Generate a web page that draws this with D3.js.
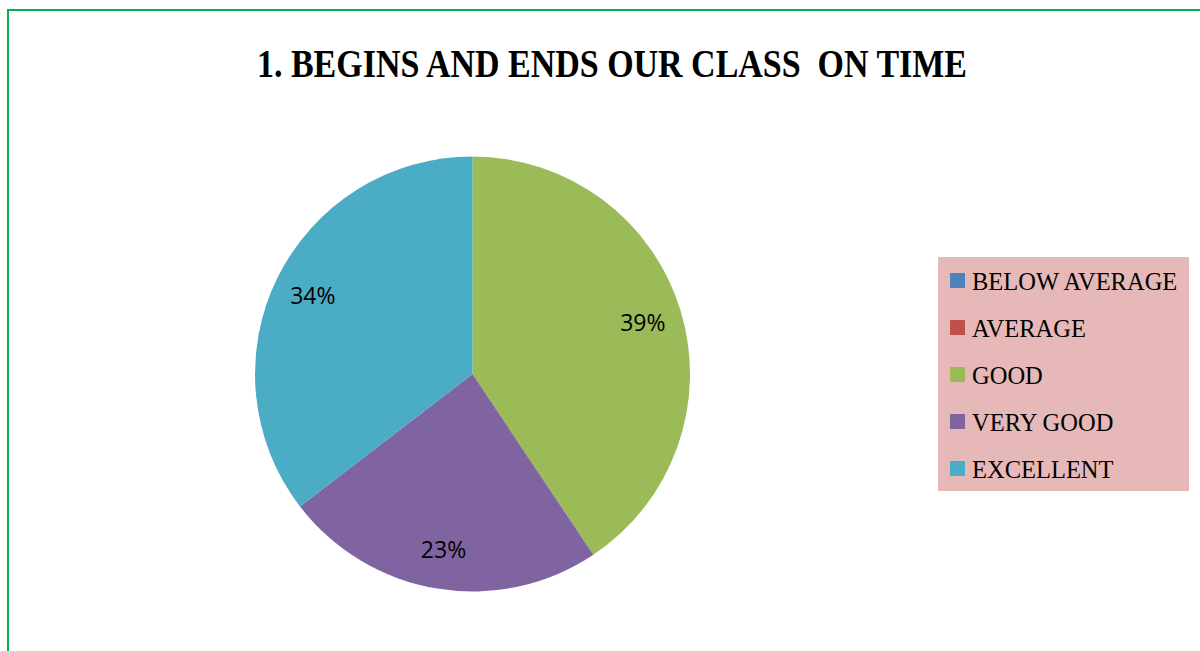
<!DOCTYPE html>
<html>
<head>
<meta charset="utf-8">
<script src="https://cdnjs.cloudflare.com/ajax/libs/d3/7.8.5/d3.min.js"></script>
<style>
    html, body { margin: 0; padding: 0; background: #fff; overflow: hidden; }
</style>
</head>
<body>
<div class="chart"></div>
<script>
// chart data
var categories = ["BELOW AVERAGE", "AVERAGE", "GOOD", "VERY GOOD", "EXCELLENT"];
var values = [0, 0, 39, 23, 34];
var sliceColors = ["#4F81BD", "#C0504D", "#9BBB59", "#8064A2", "#4BACC6"];
var chartTitle = "1. BEGINS AND ENDS OUR CLASS  ON TIME";

var width = 1200, height = 651;
var cx = 472.5, cy = 374, radius = 217.5;

var svg = d3.select("div.chart")
    .append("svg")
    .attr("width", width)
    .attr("height", height);

// green frame of the chart area (runs off the page right/bottom)
svg.append("rect")
    .attr("x", 8)
    .attr("y", 10)
    .attr("width", 1300)
    .attr("height", 800)
    .style("fill", "none")
    .style("stroke", "#00B050")
    .style("stroke-width", 2);

// title
svg.append("text")
    .attr("x", 257)
    .attr("y", 77)
    .attr("textLength", 710)
    .attr("lengthAdjust", "spacingAndGlyphs")
    .style("font-family", "'Liberation Serif', serif")
    .style("font-weight", "bold")
    .style("font-size", "40px")
    .style("fill", "#000")
    .style("white-space", "pre")
    .text(chartTitle);

var data = categories.map(function (c, i) {
    return { name: c, value: values[i], color: sliceColors[i] };
});

var pie = d3.pie()
    .sort(null)
    .value(function (d) { return d.value; });

var arc = d3.arc()
    .innerRadius(0)
    .outerRadius(radius);

var labelArc = d3.arc()
    .innerRadius(178)
    .outerRadius(178);

var g = svg.append("g")
    .attr("transform", "translate(" + cx + "," + cy + ")");

var arcs = pie(data);

g.selectAll("path.slice")
    .data(arcs)
    .enter()
    .append("path")
    .attr("class", "slice")
    .attr("d", arc)
    .style("fill", function (d) { return d.data.color; });

// value labels (only for visible slices)
g.selectAll("text.lbl")
    .data(arcs.filter(function (d) { return d.data.value > 0; }))
    .enter()
    .append("text")
    .attr("class", "lbl")
    .attr("transform", function (d) {
        return "translate(" + labelArc.centroid(d) + ")";
    })
    .attr("text-anchor", "middle")
    .attr("dy", "0.36em")
    .style("font-family", "'Open Sans', sans-serif")
    .style("font-size", "23px")
    .style("fill", "#000")
    .text(function (d) { return d.data.value + "%"; });

// legend
var legend = svg.append("g")
    .attr("transform", "translate(938,257)");

legend.append("rect")
    .attr("width", 251)
    .attr("height", 234)
    .style("fill", "#E6B9B8");

var rowY = d3.scalePoint()
    .domain(categories)
    .range([16, 204]);

var rows = legend.selectAll("g.row")
    .data(data)
    .enter()
    .append("g")
    .attr("class", "row")
    .attr("transform", function (d) { return "translate(12," + rowY(d.name) + ")"; });

rows.append("rect")
    .attr("width", 15)
    .attr("height", 15)
    .style("fill", function (d) { return d.color; });

rows.append("text")
    .attr("x", 22)
    .attr("y", 17)
    .style("font-family", "'Liberation Serif', serif")
    .style("font-size", "24.5px")
    .style("fill", "#000")
    .text(function (d) { return d.name; });
</script>
</body>
</html>
